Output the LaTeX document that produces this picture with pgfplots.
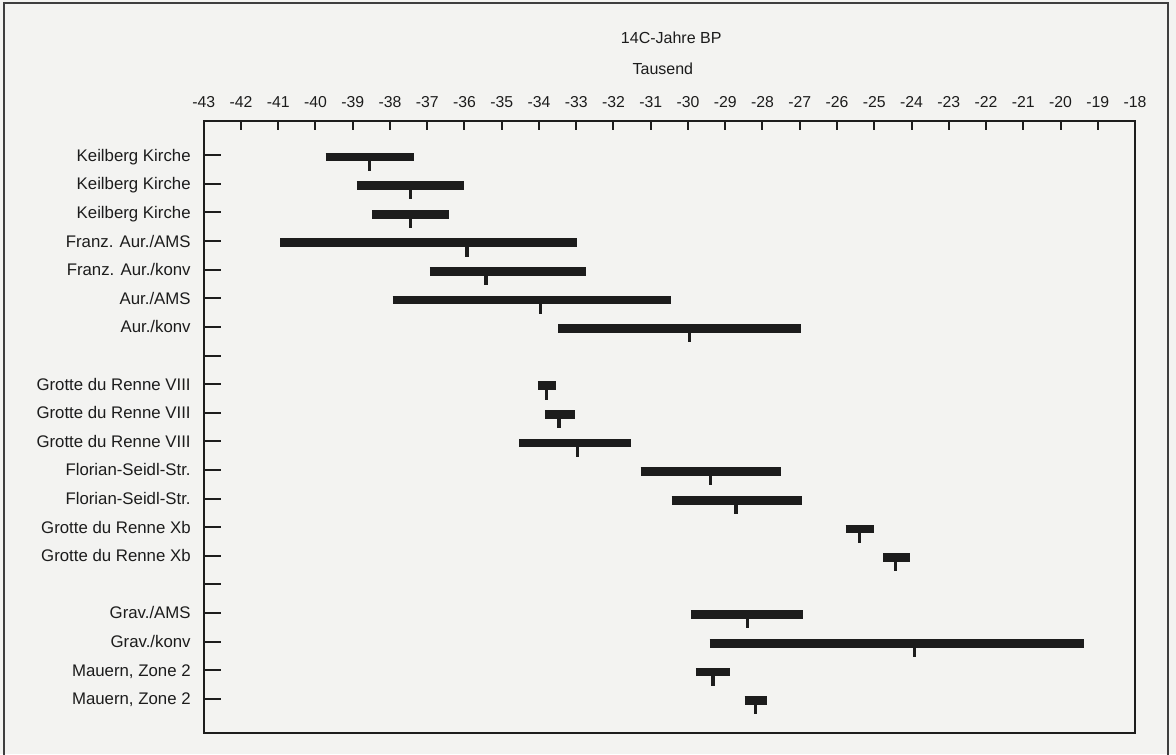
\documentclass[border=0pt]{standalone}
\usepackage{fontspec}
\setmainfont{Liberation Sans}
\usepackage{pgfplots}
\pgfplotsset{compat=1.18}
\definecolor{paper}{RGB}{243,243,241}
\definecolor{ink}{RGB}{28,28,28}

\begin{document}
\begin{tikzpicture}
\fill[paper] (0,0) rectangle (588pt,377pt);
\useasboundingbox (0,0) rectangle (588pt,377pt);
\draw[ink!85, line width=0.7pt] (2pt,-2pt) -- (2pt,375.5pt) -- (584pt,375.5pt) -- (584pt,-2pt);
\begin{axis}[
  at={(101.85pt,10.75pt)}, anchor=south west,
  scale only axis, width=465.65pt, height=305.75pt,
  xmin=-43, xmax=-18, ymin=-0.199, ymax=21.18, y dir=reverse,
  clip=false,
  axis line style={ink, line width=1pt},
  tick align=inside,
  xtick={-43,-42,-41,-40,-39,-38,-37,-36,-35,-34,-33,-32,-31,-30,-29,-28,-27,-26,-25,-24,-23,-22,-21,-20,-19,-18},
  xticklabels={-43,-42,-41,-40,-39,-38,-37,-36,-35,-34,-33,-32,-31,-30,-29,-28,-27,-26,-25,-24,-23,-22,-21,-20,-19,-18},
  xtick pos=upper, xticklabel pos=upper,
  xtick style={ink, line width=1pt, /pgfplots/major tick length=4.5pt},
  ytick={1,...,20}, ytick pos=left,
  ytick style={ink, line width=1pt, /pgfplots/major tick length=8.5pt},
  yticklabels={Keilberg Kirche, Keilberg Kirche, Keilberg Kirche, Franz. Aur./AMS, Franz. Aur./konv, Aur./AMS, Aur./konv, {}, Grotte du Renne VIII, Grotte du Renne VIII, Grotte du Renne VIII, Florian-Seidl-Str., Florian-Seidl-Str., Grotte du Renne Xb, Grotte du Renne Xb, {}, Grav./AMS, Grav./konv, {Mauern, Zone 2}, {Mauern, Zone 2}},
  xticklabel style={font=\fontsize{7.9}{9}\selectfont, text=ink, yshift=3.2pt},
  yticklabel style={font=\fontsize{8.4}{9.6}\selectfont, text=ink, anchor=base east, yshift=-3.0pt, xshift=-3.0pt},
  axis background/.style={fill=paper},
  unbounded coords=jump,
]
% bars: range (lo..hi), each row drawn slightly below its tick
\addplot[ink, line width=4.35pt, mark=none, line cap=butt] table[row sep=\\] {
x y\\
-39.73 1.06\\ -37.35 1.06\\ nan nan\\
-38.89 2.06\\ -36.00 2.06\\ nan nan\\
-38.48 3.06\\ -36.42 3.06\\ nan nan\\
-40.95 4.06\\ -32.97 4.06\\ nan nan\\
-36.93 5.06\\ -32.74 5.06\\ nan nan\\
-37.93 6.06\\ -30.45 6.06\\ nan nan\\
-33.48 7.06\\ -26.96 7.06\\ nan nan\\
-34.03 9.06\\ -33.54 9.06\\ nan nan\\
-33.83 10.06\\ -33.04 10.06\\ nan nan\\
-34.53 11.06\\ -31.53 11.06\\ nan nan\\
-31.27 12.06\\ -27.49 12.06\\ nan nan\\
-30.44 13.06\\ -26.94 13.06\\ nan nan\\
-25.77 14.06\\ -25.01 14.06\\ nan nan\\
-24.76 15.06\\ -24.04 15.06\\ nan nan\\
-29.92 17.06\\ -26.90 17.06\\ nan nan\\
-29.42 18.06\\ -19.38 18.06\\ nan nan\\
-29.79 19.06\\ -28.87 19.06\\ nan nan\\
-28.48 20.06\\ -27.87 20.06\\
};
% medians
\addplot[ink, line width=1.6pt, mark=none, line cap=butt] table[row sep=\\] {
x y\\
-38.56 1.0\\ -38.56 1.54\\ nan nan\\
-37.44 2.0\\ -37.44 2.54\\ nan nan\\
-37.44 3.0\\ -37.44 3.54\\ nan nan\\
-35.93 4.0\\ -35.93 4.54\\ nan nan\\
-35.42 5.0\\ -35.42 5.54\\ nan nan\\
-33.96 6.0\\ -33.96 6.54\\ nan nan\\
-29.95 7.0\\ -29.95 7.54\\ nan nan\\
-33.79 9.0\\ -33.79 9.54\\ nan nan\\
-33.46 10.0\\ -33.46 10.54\\ nan nan\\
-32.96 11.0\\ -32.96 11.54\\ nan nan\\
-29.39 12.0\\ -29.39 12.54\\ nan nan\\
-28.71 13.0\\ -28.71 13.54\\ nan nan\\
-25.39 14.0\\ -25.39 14.54\\ nan nan\\
-24.42 15.0\\ -24.42 15.54\\ nan nan\\
-28.41 17.0\\ -28.41 17.54\\ nan nan\\
-23.91 18.0\\ -23.91 18.54\\ nan nan\\
-29.33 19.0\\ -29.33 19.54\\ nan nan\\
-28.19 20.0\\ -28.19 20.54\\
};
\node[font=\fontsize{8}{9.6}\selectfont, text=ink] at (axis description cs:0.502,1.136) {14C-Jahre BP};
\node[font=\fontsize{8}{9.6}\selectfont, text=ink] at (axis description cs:0.493,1.085) {Tausend};
\end{axis}
\end{tikzpicture}
\end{document}
